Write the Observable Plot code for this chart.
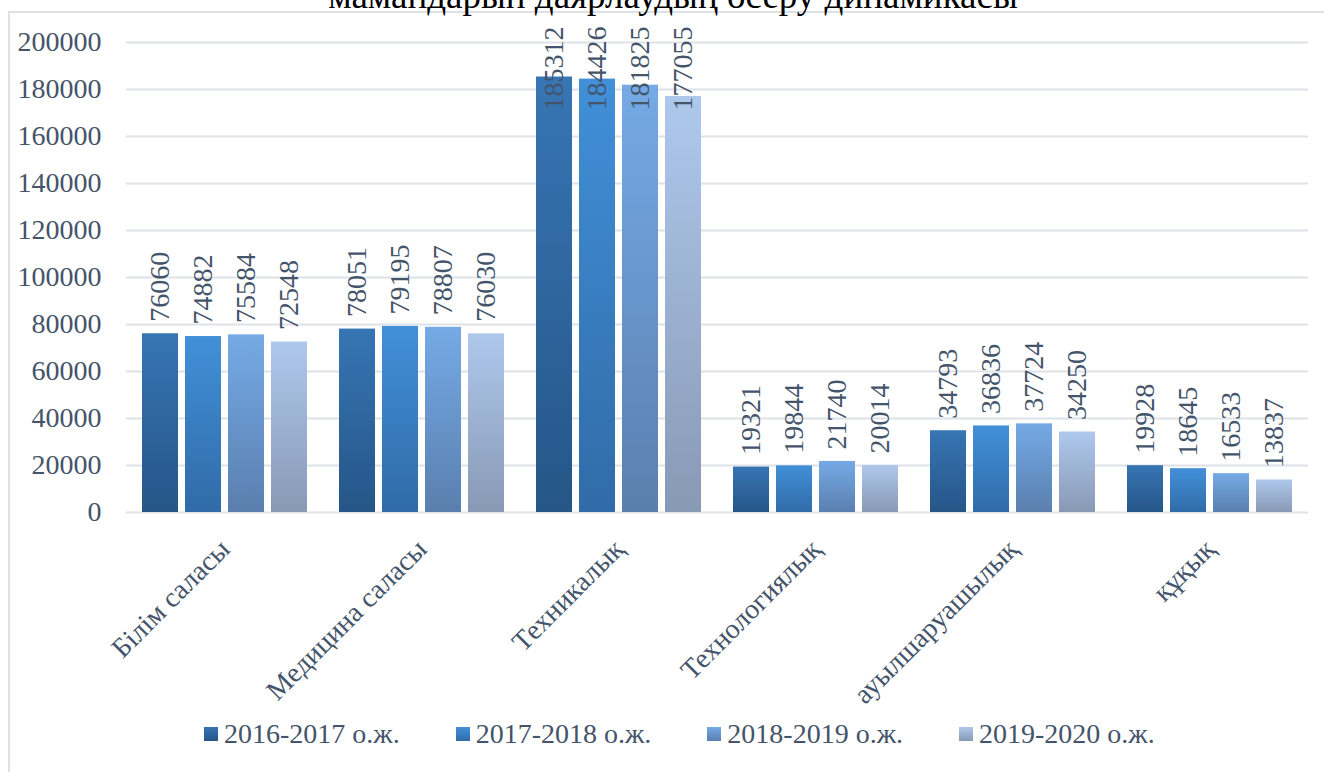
<!DOCTYPE html>
<html><head><meta charset="utf-8">
<script src="https://cdn.jsdelivr.net/npm/d3@7"></script>
<script src="https://cdn.jsdelivr.net/npm/@observablehq/plot@0.6"></script>
<style>
body{margin:0;background:#fff;}
#wrap{position:relative;width:1324px;height:772px;overflow:hidden;background:#fff;font-family:"Liberation Serif","Times New Roman",serif;}
#frame{position:absolute;left:8px;top:11px;width:1400px;height:900px;border-left:2px solid #dde1e8;border-top:2px solid #dde1e8;}
#title{position:absolute;left:0;width:1346px;text-align:center;top:-23px;font-size:37px;line-height:37px;color:#000;white-space:nowrap;}
#chart{position:absolute;left:0;top:0;}
#chart svg, #chart svg text{font-family:"Liberation Serif","Times New Roman",serif !important;}
#legend{position:absolute;left:204px;top:714px;display:flex;gap:56px;font-size:28px;line-height:40px;color:#44546a;white-space:nowrap;}
.item{display:flex;align-items:center;}
.sw{width:14px;height:14px;margin-right:6px;}
</style></head><body>
<div id="wrap"><div id="frame"></div><div id="title"></div><div id="chart"></div><div id="legend"></div></div>
<script>
const titleText = "мамандарын даярлаудың өсеру динамикасы";
const categories = ["Білім саласы", "Медицина саласы", "Техникалық", "Технологиялық", "ауылшаруашылық", "құқық"];
const series = ["2016-2017 о.ж.", "2017-2018 о.ж.", "2018-2019 о.ж.", "2019-2020 о.ж."];
const values2016 = [76060, 78051, 185312, 19321, 34793, 19928];
const values2017 = [74882, 79195, 184426, 19844, 36836, 18645];
const values2018 = [75584, 78807, 181825, 21740, 37724, 16533];
const values2019 = [72548, 76030, 177055, 20014, 34250, 13837];
const yTicks = [0, 20000, 40000, 60000, 80000, 100000, 120000, 140000, 160000, 180000, 200000];
const gradTop = ["#3775b4", "#4190d8", "#75aae6", "#aec8ec"];
const gradBottom = ["#255687", "#316ba8", "#5a7fae", "#8899b5"];
const labelCap = 166000;

const seriesValues = [values2016, values2017, values2018, values2019];
const data = categories.flatMap((c, i) => series.map((s, j) => ({category: c, series: s, sIndex: j, value: seriesValues[j][i]})));

document.getElementById("title").textContent = titleText;

const serif = "'Liberation Serif', 'Times New Roman', serif";
const chart = Plot.plot({
  width: 1324, height: 700,
  marginLeft: 125, marginRight: 16, marginTop: 42, marginBottom: 188,
  style: {fontFamily: serif, fontSize: "28px", color: "#44546a", background: "transparent", overflow: "visible"},
  fx: {domain: categories, padding: 0, label: null, axis: "bottom", tickRotate: -45, tickSize: 0, tickPadding: 32},
  x: {domain: series, axis: null, paddingInner: 0.163, paddingOuter: 0.372},
  y: {domain: [0, 200000], ticks: yTicks, tickFormat: d => String(d), tickSize: 0, tickPadding: 25, label: null},
  marks: [
    Plot.gridY(yTicks, {stroke: "#dde1e8", strokeOpacity: 1, strokeWidth: 2}),
    ...series.map((s, j) => Plot.barY(data.filter(d => d.sIndex === j), {fx: "category", x: "series", y: "value", fill: `url(#grad${j})`})),
    Plot.text(data, {fx: "category", x: "series", y: d => Math.min(d.value, labelCap), dy: -12, text: d => String(d.value),
      rotate: -90, textAnchor: "start", lineAnchor: "middle", fill: "#44546a", fontSize: 28, fontFamily: serif})
  ]
});

const ns = "http://www.w3.org/2000/svg";
const defs = document.createElementNS(ns, "defs");
series.forEach((s, j) => {
  const g = document.createElementNS(ns, "linearGradient");
  g.setAttribute("id", `grad${j}`);
  g.setAttribute("x1", "0"); g.setAttribute("y1", "0"); g.setAttribute("x2", "0"); g.setAttribute("y2", "1");
  const s0 = document.createElementNS(ns, "stop"); s0.setAttribute("offset", "0"); s0.setAttribute("stop-color", gradTop[j]);
  const s1 = document.createElementNS(ns, "stop"); s1.setAttribute("offset", "1"); s1.setAttribute("stop-color", gradBottom[j]);
  g.appendChild(s0); g.appendChild(s1); defs.appendChild(g);
});
chart.insertBefore(defs, chart.firstChild);
document.getElementById("chart").appendChild(chart);

const legend = document.getElementById("legend");
series.forEach((s, j) => {
  const item = document.createElement("div"); item.className = "item";
  const sw = document.createElement("div"); sw.className = "sw";
  sw.style.background = `linear-gradient(to bottom, ${gradTop[j]}, ${gradBottom[j]})`;
  const t = document.createElement("span"); t.textContent = s;
  item.appendChild(sw); item.appendChild(t); legend.appendChild(item);
});
</script>
</body></html>
